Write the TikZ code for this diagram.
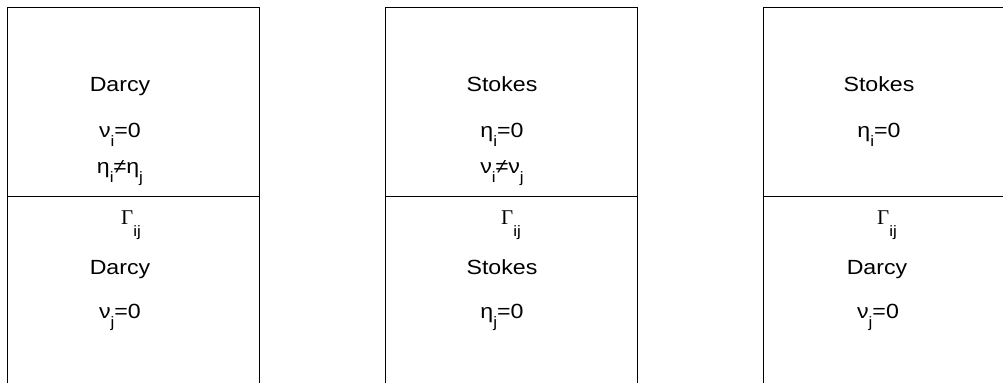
\documentclass[tikz,border=0pt]{standalone}
\usepackage{fontspec}
\setmainfont{Liberation Sans}[FakeStretch=1.13]
\newfontfamily\gserif{Liberation Serif}
\newcommand{\sbs}[1]{\raisebox{-9pt}{\fontsize{15}{15}\selectfont #1}}
\newcommand{\gsbs}[1]{\raisebox{-12pt}{\fontsize{15}{15}\selectfont #1}}
\newcommand{\Gij}{{\gserif\fontsize{21}{22}\selectfont Γ}\gsbs{ij}}
\begin{document}
\begin{tikzpicture}[x=1pt,y=-1pt,
  lbl/.style={anchor=base,inner sep=0pt,font=\fontsize{20.5}{22}\selectfont},
  wall/.style={line width=1pt,black}]
\useasboundingbox (0,0) rectangle (1003,383);
% panel 1
\draw[wall] (7,383) -- (7,7) -- (259,7) -- (259,383);
\draw[wall] (7,196) -- (259,196);
\node[lbl] (a1) at (120,91) {Darcy};
\node[lbl] (a2) at (120,137) {ν\sbs{i}=0};
\node[lbl] (a3) at (120,173) {η\sbs{i}≠η\sbs{j}};
\node[lbl] (a4) at (131,224) {\Gij};
\node[lbl] (a5) at (120,274) {Darcy};
\node[lbl] (a6) at (120,318) {ν\sbs{j}=0};
% panel 2
\draw[wall] (385,383) -- (385,7) -- (637,7) -- (637,383);
\draw[wall] (385,196) -- (637,196);
\node[lbl] (b1) at (502,91) {Stokes};
\node[lbl] (b2) at (502,137) {η\sbs{i}=0};
\node[lbl] (b3) at (502,173) {ν\sbs{i}≠ν\sbs{j}};
\node[lbl] (b4) at (511,224) {\Gij};
\node[lbl] (b5) at (502,274) {Stokes};
\node[lbl] (b6) at (502,318) {η\sbs{j}=0};
% panel 3
\draw[wall] (763,383) -- (763,7) -- (1003,7);
\draw[wall] (763,196) -- (1003,196);
\node[lbl] (c1) at (879,91) {Stokes};
\node[lbl] (c2) at (879,137) {η\sbs{i}=0};
\node[lbl] (c4) at (887,224) {\Gij};
\node[lbl] (c5) at (877,274) {Darcy};
\node[lbl] (c6) at (878,318) {ν\sbs{j}=0};
\end{tikzpicture}
\end{document}
